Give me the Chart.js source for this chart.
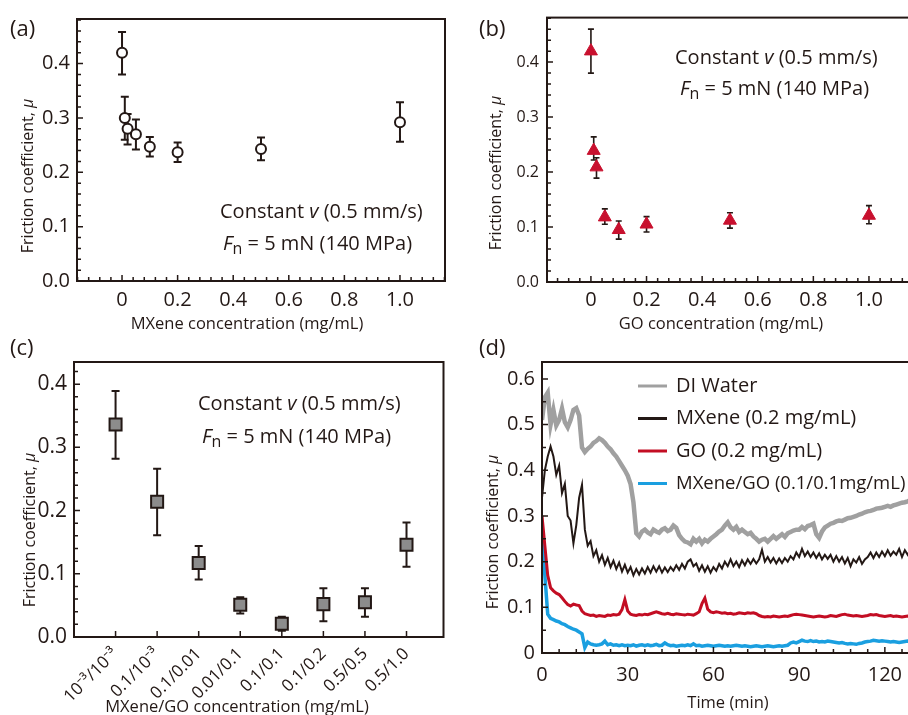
<!DOCTYPE html>
<html>
<head>
<meta charset="utf-8">
<script src="https://cdn.jsdelivr.net/npm/chart.js@4.4.0/dist/chart.umd.min.js"></script>
<style>
  body { margin: 0; width: 908px; height: 715px; overflow: hidden; background: #fff; position: relative;
         font-family: "Open Sans", "Noto Sans", sans-serif; color: #231815; }
  canvas { position: absolute; }
  .t { position: absolute; white-space: nowrap; line-height: 1; }
  .letter { font-size: 22px; transform: translateY(-50%); }
  .note { font-size: 20px; transform: translateY(-50%); }
  .xt { font-size: 16.5px; transform: translate(-50%, -50%); }
  .yt { font-size: 16px; transform: translate(-50%, -50%) rotate(-90deg); }
  sub { font-size: 0.8em; vertical-align: -0.25em; }
</style>
</head>
<body>
<canvas id="chartA" width="454" height="335" style="left:0;top:0"></canvas>
<canvas id="chartB" width="470" height="335" style="left:454px;top:0"></canvas>
<canvas id="chartC" width="454" height="380" style="left:0;top:335px"></canvas>
<canvas id="chartD" width="470" height="380" style="left:454px;top:335px"></canvas>

<div class="t letter" style="left:10px;top:27px">(a)</div>
<div class="t letter" style="left:479px;top:27px">(b)</div>
<div class="t letter" style="left:10px;top:346px">(c)</div>
<div class="t letter" style="left:479px;top:346px">(d)</div>

<div class="t note" style="left:220px;top:211px">Constant <i>v</i> (0.5 mm/s)</div>
<div class="t note" style="left:223px;top:244px"><i>F</i><sub>n</sub> = 5 mN (140 MPa)</div>
<div class="t note" style="left:675px;top:57px">Constant <i>v</i> (0.5 mm/s)</div>
<div class="t note" style="left:680px;top:89px"><i>F</i><sub>n</sub> = 5 mN (140 MPa)</div>
<div class="t note" style="left:198px;top:403px">Constant <i>v</i> (0.5 mm/s)</div>
<div class="t note" style="left:202px;top:437px"><i>F</i><sub>n</sub> = 5 mN (140 MPa)</div>

<div class="t xt" style="left:247px;top:323px">MXene concentration (mg/mL)</div>
<div class="t xt" style="left:721px;top:323px">GO concentration (mg/mL)</div>
<div class="t xt" style="left:237px;top:706px">MXene/GO concentration (mg/mL)</div>
<div class="t xt" style="left:728px;top:702px">Time (min)</div>
<div class="t yt" style="left:27px;top:176px">Friction coefficient, <i>μ</i></div>
<div class="t yt" style="left:495px;top:173px">Friction coefficient, <i>μ</i></div>
<div class="t yt" style="left:29px;top:530px">Friction coefficient, <i>μ</i></div>
<div class="t yt" style="left:492px;top:532px">Friction coefficient, <i>μ</i></div>

<script>
// (a) MXene only
const mxeneConc  = [0, 0.01, 0.02, 0.05, 0.1, 0.2, 0.5, 1.0];
const mxeneMu    = [0.42, 0.30, 0.28, 0.27, 0.247, 0.237, 0.243, 0.292];
const mxeneErrLo = [0.38, 0.26, 0.251, 0.242, 0.229, 0.219, 0.222, 0.256];
const mxeneErrHi = [0.458, 0.339, 0.307, 0.297, 0.265, 0.255, 0.264, 0.329];

// (b) GO only
const goConc  = [0, 0.01, 0.02, 0.05, 0.1, 0.2, 0.5, 1.0];
const goMu    = [0.42, 0.239, 0.209, 0.118, 0.095, 0.105, 0.112, 0.121];
const goErrLo = [0.38, 0.222, 0.189, 0.105, 0.078, 0.091, 0.098, 0.106];
const goErrHi = [0.46, 0.264, 0.226, 0.133, 0.111, 0.119, 0.126, 0.139];

// (c) MXene/GO hybrid
const hybridLabels = ['10⁻³/10⁻³', '0.1/10⁻³', '0.1/0.01', '0.01/0.1', '0.1/0.1', '0.1/0.2', '0.5/0.5', '0.5/1.0'];
const hybridMu    = [0.336, 0.214, 0.117, 0.051, 0.021, 0.052, 0.055, 0.146];
const hybridErrLo = [0.282, 0.161, 0.091, 0.037, 0.010, 0.025, 0.032, 0.111];
const hybridErrHi = [0.389, 0.266, 0.144, 0.063, 0.032, 0.077, 0.077, 0.181];

// tick labels
const concTicks = [0, 0.2, 0.4, 0.6, 0.8, 1.0];
const muTicks = [0, 0.1, 0.2, 0.3, 0.4];
const muTicksD = [0, 0.1, 0.2, 0.3, 0.4, 0.5, 0.6];
const timeTicks = [0, 30, 60, 90, 120];

// (d) friction vs time, one value per minute
const timeMin = Array.from({ length: 131 }, (_, i) => i);
const diWater = [
  0.51, 0.56, 0.57, 0.50, 0.532, 0.498, 0.51, 0.535, 0.505, 0.494,
  0.51, 0.532, 0.536, 0.52, 0.45, 0.44, 0.447, 0.452, 0.46, 0.464,
  0.47, 0.466, 0.46, 0.452, 0.446, 0.437, 0.43, 0.42, 0.41, 0.40,
  0.388, 0.37, 0.33, 0.262, 0.255, 0.266, 0.27, 0.264, 0.26, 0.27,
  0.266, 0.263, 0.27, 0.273, 0.267, 0.27, 0.279, 0.274, 0.258, 0.25,
  0.244, 0.242, 0.238, 0.25, 0.244, 0.25, 0.24, 0.248, 0.244, 0.25,
  0.255, 0.26, 0.266, 0.27, 0.279, 0.286, 0.275, 0.27, 0.276, 0.265,
  0.27, 0.265, 0.26, 0.263, 0.255, 0.25, 0.244, 0.248, 0.25, 0.244,
  0.25, 0.256, 0.25, 0.255, 0.26, 0.254, 0.262, 0.265, 0.268, 0.27,
  0.27, 0.276, 0.271, 0.278, 0.28, 0.283, 0.26, 0.252, 0.266, 0.275,
  0.279, 0.283, 0.285, 0.288, 0.29, 0.289, 0.292, 0.295, 0.296, 0.298,
  0.30, 0.303, 0.305, 0.308, 0.31, 0.311, 0.313, 0.316, 0.317, 0.318,
  0.32, 0.322, 0.32, 0.323, 0.325, 0.327, 0.329, 0.33, 0.332, 0.335,
  0.338
];
const mxene02 = [
  0.34, 0.40, 0.43, 0.452, 0.43, 0.39, 0.41, 0.35, 0.37, 0.30,
  0.29, 0.24, 0.28, 0.34, 0.368, 0.27, 0.235, 0.245, 0.212, 0.225,
  0.20, 0.214, 0.193, 0.208, 0.188, 0.202, 0.184, 0.198, 0.178, 0.193,
  0.176, 0.188, 0.17, 0.184, 0.172, 0.185, 0.174, 0.188, 0.176, 0.19,
  0.178, 0.19, 0.176, 0.187, 0.177, 0.188, 0.18, 0.192, 0.182, 0.195,
  0.185, 0.20, 0.205, 0.19, 0.196, 0.18, 0.192, 0.178, 0.19, 0.176,
  0.188, 0.18, 0.195, 0.185, 0.20, 0.19, 0.205, 0.19, 0.20, 0.188,
  0.203, 0.192, 0.205, 0.195, 0.206, 0.196, 0.205, 0.226, 0.20, 0.21,
  0.198, 0.208, 0.196, 0.207, 0.197, 0.208, 0.20, 0.212, 0.205, 0.22,
  0.21, 0.228, 0.212, 0.222, 0.21, 0.22, 0.208, 0.218, 0.205, 0.215,
  0.206, 0.215, 0.20, 0.212, 0.20, 0.21, 0.196, 0.208, 0.19, 0.205,
  0.198, 0.21, 0.195, 0.205, 0.21, 0.22, 0.208, 0.22, 0.21, 0.222,
  0.212, 0.225, 0.213, 0.222, 0.215, 0.228, 0.21, 0.225, 0.215, 0.226,
  0.218
];
const go02 = [
  0.30, 0.235, 0.17, 0.143, 0.136, 0.131, 0.128, 0.121, 0.113, 0.106,
  0.103, 0.107, 0.105, 0.104, 0.092, 0.086, 0.084, 0.082, 0.083, 0.08,
  0.082, 0.081, 0.08, 0.083, 0.082, 0.084, 0.083, 0.085, 0.095, 0.117,
  0.092, 0.085, 0.083, 0.082, 0.084, 0.083, 0.085, 0.084, 0.086, 0.088,
  0.09, 0.088, 0.086, 0.085, 0.087, 0.085, 0.084, 0.086, 0.085, 0.084,
  0.083, 0.085, 0.084, 0.083, 0.086, 0.09, 0.108, 0.12, 0.096, 0.09,
  0.088, 0.09, 0.089, 0.087, 0.088, 0.086, 0.087, 0.085, 0.086, 0.088,
  0.087, 0.086, 0.088, 0.087, 0.088, 0.086, 0.082, 0.08, 0.079, 0.08,
  0.079, 0.081, 0.08, 0.079, 0.08, 0.081, 0.08, 0.082, 0.084, 0.085,
  0.084, 0.083, 0.082, 0.081, 0.08, 0.079, 0.08, 0.081, 0.08, 0.079,
  0.08, 0.082, 0.081, 0.08, 0.082, 0.084, 0.085, 0.083, 0.082, 0.081,
  0.082, 0.081, 0.08, 0.081, 0.082, 0.084, 0.083, 0.084, 0.082, 0.081,
  0.08, 0.081, 0.082, 0.08, 0.081, 0.08, 0.079, 0.08, 0.081, 0.08,
  0.081
];
const hybrid01 = [
  0.245, 0.17, 0.085, 0.076, 0.073, 0.07, 0.068, 0.064, 0.062, 0.058,
  0.055, 0.052, 0.05, 0.046, 0.042, 0.012, 0.024, 0.02, 0.018, 0.017,
  0.018, 0.02, 0.026, 0.018, 0.02, 0.017, 0.018, 0.016, 0.018, 0.016,
  0.017, 0.016, 0.018, 0.015, 0.017, 0.018, 0.016, 0.018, 0.016, 0.017,
  0.019, 0.016, 0.017, 0.022, 0.018, 0.016, 0.017, 0.015, 0.016, 0.017,
  0.016, 0.018, 0.016, 0.02, 0.016, 0.017, 0.015, 0.016, 0.017, 0.016,
  0.015, 0.016, 0.017, 0.016, 0.015, 0.016, 0.015, 0.016, 0.017, 0.016,
  0.015, 0.016, 0.015, 0.014, 0.015, 0.016, 0.015, 0.014, 0.015, 0.016,
  0.015, 0.014, 0.015, 0.016, 0.015, 0.016, 0.017, 0.022, 0.024, 0.022,
  0.025, 0.028, 0.026, 0.025, 0.027, 0.025, 0.026, 0.024, 0.025, 0.024,
  0.026, 0.025, 0.024, 0.023, 0.022, 0.023, 0.021, 0.02, 0.021, 0.02,
  0.019, 0.021, 0.022, 0.024, 0.025, 0.026, 0.028, 0.027, 0.026, 0.027,
  0.026, 0.025, 0.024, 0.025, 0.024, 0.023, 0.024, 0.025, 0.026, 0.025,
  0.026
];

const FONT = '"Open Sans", "Noto Sans", sans-serif';
const INK = '#231815';

// inward ticks + closed frame
const frame = {
  id: 'frame',
  afterDraw(chart, args, o) {
    const { ctx, chartArea: a, scales: { x, y } } = chart;
    ctx.save();
    ctx.strokeStyle = INK;
    ctx.lineWidth = 2;
    ctx.strokeRect(a.left, a.top, a.right - a.left, a.bottom - a.top);
    ctx.lineWidth = 1.5;
    ctx.beginPath();
    const mark = (s, v, len) => {
      const p = s.getPixelForValue(v);
      if (s.isHorizontal()) { ctx.moveTo(p, a.bottom); ctx.lineTo(p, a.bottom - len); }
      else { ctx.moveTo(a.left, p); ctx.lineTo(a.left + len, p); }
    };
    [[x, o.xMinor], [y, o.yMinor]].forEach(([s, st]) => {
      if (!st) return;
      for (let i = Math.ceil(s.min / st - 1e-6); i * st <= s.max + 1e-9; i++) mark(s, i * st, 4);
    });
    x.ticks.forEach(t => mark(x, t.value, 6));
    y.ticks.forEach(t => mark(y, t.value, 6));
    ctx.stroke();
    ctx.restore();
  }
};

// vertical error bars, drawn under the markers
const errorBars = {
  id: 'errorBars',
  beforeDatasetsDraw(chart) {
    const { ctx, scales: { y } } = chart;
    chart.data.datasets.forEach((ds, di) => {
      if (!ds.errLow) return;
      ctx.save();
      ctx.strokeStyle = ds.errColor;
      ctx.lineWidth = ds.errWidth;
      ctx.beginPath();
      chart.getDatasetMeta(di).data.forEach((pt, i) => {
        const y1 = y.getPixelForValue(ds.errLow[i]), y2 = y.getPixelForValue(ds.errHigh[i]);
        const c = ds.errCap;
        ctx.moveTo(pt.x, y1); ctx.lineTo(pt.x, y2);
        ctx.moveTo(pt.x - c, y1); ctx.lineTo(pt.x + c, y1);
        ctx.moveTo(pt.x - c, y2); ctx.lineTo(pt.x + c, y2);
      });
      ctx.stroke();
      ctx.restore();
    });
  }
};

// legend for panel (d)
const lineLegend = {
  id: 'lineLegend',
  afterDraw(chart, args, o) {
    if (!o.show) return;
    const ctx = chart.ctx;
    ctx.save();
    ctx.textBaseline = 'middle';
    chart.data.datasets.forEach((ds, i) => {
      const y = o.y + i * o.gap;
      ctx.strokeStyle = ds.borderColor;
      ctx.lineWidth = 3;
      ctx.beginPath(); ctx.moveTo(o.x, y); ctx.lineTo(o.x + o.len, y); ctx.stroke();
      ctx.fillStyle = INK;
      ctx.font = `${ds.legendSize}px ${FONT}`;
      ctx.fillText(ds.label, o.x + o.len + 9, y);
    });
    ctx.restore();
  }
};

const fmt1 = v => v === 0 ? '0' : v.toFixed(1);

function axis(min, max, fixed, tickList, fontSize, pad, cb, horizontal, extra) {
  return {
    type: 'linear', min, max,
    afterFit: horizontal ? s => { s.height = fixed; } : s => { s.width = fixed; },
    afterBuildTicks: s => { s.ticks = tickList.map(v => ({ value: v })); },
    grid: { display: false, drawTicks: false },
    border: { display: false },
    ticks: Object.assign({ padding: pad, color: INK, font: { size: fontSize, family: FONT }, callback: cb }, extra || {})
  };
}

function baseOptions(pad, frameOpts, scales) {
  return {
    responsive: false, animation: false, events: [],
    layout: { padding: pad },
    plugins: { legend: { display: false }, tooltip: { enabled: false }, frame: frameOpts },
    scales
  };
}

new Chart(document.getElementById('chartA'), {
  type: 'scatter',
  data: { datasets: [{
    data: mxeneConc.map((x, i) => ({ x, y: mxeneMu[i] })),
    errLow: mxeneErrLo, errHigh: mxeneErrHi, errColor: INK, errWidth: 2, errCap: 4,
    pointStyle: 'circle', pointRadius: 5, pointBackgroundColor: '#fff',
    pointBorderColor: INK, pointBorderWidth: 2
  }] },
  options: baseOptions({ left: 0, top: 16, right: 9, bottom: 0 }, { xMinor: 0.04, yMinor: 0.02 }, {
    x: axis(-0.162, 1.162, 54, concTicks, 20, 7, fmt1, true),
    y: axis(0, 0.482, 77, muTicks, 20, 7, v => v.toFixed(1), false)
  }),
  plugins: [errorBars, frame]
});

new Chart(document.getElementById('chartB'), {
  type: 'scatter',
  data: { datasets: [{
    data: goConc.map((x, i) => ({ x, y: goMu[i] })),
    errLow: goErrLo, errHigh: goErrHi, errColor: INK, errWidth: 1.6, errCap: 3,
    pointStyle: 'triangle', pointRadius: 7.5, pointBackgroundColor: '#c8102e',
    pointBorderColor: '#c8102e', pointBorderWidth: 1
  }] },
  options: baseOptions({ left: 0, top: 16, right: 10, bottom: 0 }, { xMinor: 0.04, yMinor: 0.02 }, {
    x: axis(-0.158, 1.162, 53, concTicks, 20, 6, fmt1, true),
    y: axis(0, 0.481, 93, muTicks, 16, 8, v => v.toFixed(1), false)
  }),
  plugins: [errorBars, frame]
});

new Chart(document.getElementById('chartC'), {
  type: 'scatter',
  data: { datasets: [{
    data: hybridMu.map((y, i) => ({ x: i, y })),
    errLow: hybridErrLo, errHigh: hybridErrHi, errColor: INK, errWidth: 2, errCap: 4,
    pointStyle: 'rect', pointRadius: 8.5, pointBackgroundColor: '#8c8c8c',
    pointBorderColor: INK, pointBorderWidth: 2
  }] },
  options: baseOptions({ left: 0, top: 27, right: 7, bottom: 0 }, { yMinor: 0.02 }, {
    x: axis(-1, 7.89, 78, hybridLabels.map((_, i) => i), 17, 7, v => hybridLabels[v], true,
      { minRotation: 45, maxRotation: 45 }),
    y: axis(0, 0.435, 74, muTicks, 21, 7, v => v.toFixed(1), false)
  }),
  plugins: [errorBars, frame]
});

const series = [
  { label: 'DI Water', values: diWater, color: '#a0a0a0', width: 4.5, size: 20 },
  { label: 'MXene (0.2 mg/mL)', values: mxene02, color: '#231815', width: 2, size: 20 },
  { label: 'GO (0.2 mg/mL)', values: go02, color: '#c30d23', width: 3, size: 20 },
  { label: 'MXene/GO (0.1/0.1mg/mL)', values: hybrid01, color: '#1a9fe0', width: 3.5, size: 18.5 }
];

const optsD = baseOptions({ left: 0, top: 27, right: 10, bottom: 0 }, { xMinor: 6, yMinor: 0.05 }, {
  x: axis(0, 130.2, 62, timeTicks, 20, 10, v => String(v), true),
  y: axis(0, 0.637, 88, muTicksD, 20, 7, fmt1, false)
});
optsD.plugins.lineLegend = { show: true, x: 184, y: 51, gap: 32.5, len: 29 };

new Chart(document.getElementById('chartD'), {
  type: 'line',
  data: { datasets: series.map(s => ({
    label: s.label, legendSize: s.size,
    data: timeMin.map((t, i) => ({ x: t, y: s.values[i] })),
    borderColor: s.color, borderWidth: s.width, pointRadius: 0, tension: 0, fill: false
  })) },
  options: optsD,
  plugins: [frame, lineLegend]
});
</script>
</body>
</html>
